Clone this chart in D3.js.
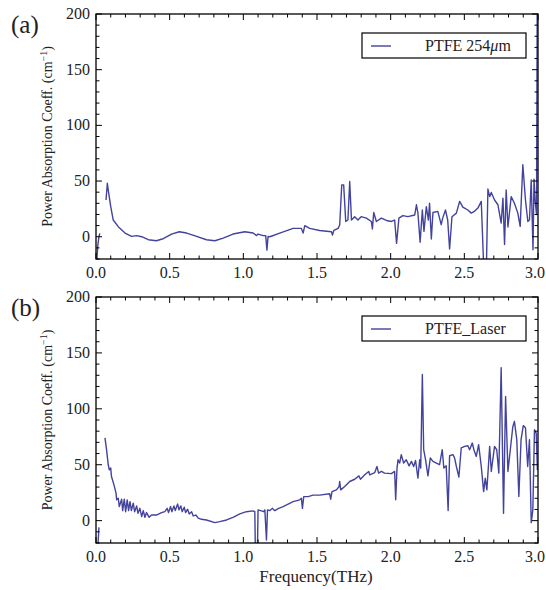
<!DOCTYPE html>
<html>
<head>
<meta charset="utf-8">
<script src="https://cdn.jsdelivr.net/npm/d3@7"></script>
<style>
  body { margin: 0; background: #fff; }
  text { font-family: "Liberation Serif", "DejaVu Serif", serif; fill: #222; }
</style>
</head>
<body>
<div id="chart"></div>
<script>
// (a) PTFE 254um
const freqA = [0.004, 0.012, 0.02, 0.026, 0.04, 0.068, 0.077, 0.083, 0.1, 0.117, 0.151, 0.197, 0.242, 0.276, 0.31,
  0.355, 0.41, 0.456, 0.513, 0.565, 0.615, 0.683, 0.75, 0.807, 0.863, 0.93, 1.01, 1.066, 1.09, 1.1,
  1.134, 1.152, 1.16, 1.168, 1.18, 1.247, 1.338, 1.394, 1.406, 1.417, 1.45, 1.518, 1.598, 1.605, 1.614,
  1.643, 1.654, 1.668, 1.681, 1.695, 1.71, 1.722, 1.734, 1.756, 1.778, 1.8, 1.835, 1.869, 1.876, 1.885,
  1.903, 1.937, 1.971, 2.005, 2.027, 2.04, 2.056, 2.083, 2.117, 2.163, 2.175, 2.185, 2.2, 2.215, 2.226,
  2.242, 2.256, 2.264, 2.276, 2.287, 2.32, 2.343, 2.353, 2.372, 2.387, 2.4, 2.416, 2.446, 2.468, 2.49,
  2.524, 2.547, 2.569, 2.592, 2.615, 2.635, 2.648, 2.66, 2.672, 2.683, 2.705, 2.728, 2.75, 2.762, 2.773,
  2.784, 2.796, 2.818, 2.84, 2.863, 2.879, 2.897, 2.915, 2.931, 2.942, 2.954, 2.966, 2.973, 2.98, 2.99, 2.996];
const absA = [-25, -8, 0, 3, null, 33, 48, 42, 27, 15, 9, 3.3, 0.3, 1, 0,
  -2.7, -3.6, -1.8, 2.4, 4.5, 3.3, 0.3, -2.7, -3.6, -1.2, 2.4, 4.5, 3.3, 1, 2.4,
  1, 1, -12, 0.3, 0, 3.3, 7.5, 7.5, 3.3, 10, 7.5, 5.6, 4.5, 1.5, 5.6,
  7.5, 10.5, 46.6, 46.6, 13.7, 15, 49.6, 15, 18, 15, 18, 16.7, 13.7, 7, 21.8,
  13.7, 16.7, 14.6, 13.7, 15, -6, 16.7, 19, 18, 19.5, 28.7, 21.2, -5, 24, 4.8,
  27, 15, 30, -2, 21.8, 22.8, 10.8, 16.7, 24, 15, -11, 18, 21.2, 31.7, 26.6,
  24, 21.2, 22.8, 25.7, 31.7, -40, -40, 42.8, 36, 39.7, 33, 28.7, 12.3, 34.7, -7,
  42, 8.7, 36, 30, 21.2, 9.3, 64.6, 33, 13.7, 15, 51, -11.7, 51.7, 33, 20, 260];

// (b) PTFE_Laser
const freqB = [0.012, 0.02, 0.04, 0.061, 0.072, 0.083, 0.09, 0.1, 0.105, 0.122, 0.136, 0.14, 0.151, 0.158, 0.174,
  0.181, 0.192, 0.201, 0.212, 0.221, 0.231, 0.24, 0.253, 0.262, 0.276, 0.285, 0.298, 0.31, 0.321, 0.332,
  0.343, 0.361, 0.377, 0.41, 0.445, 0.467, 0.483, 0.492, 0.506, 0.515, 0.529, 0.538, 0.554, 0.563, 0.576,
  0.585, 0.599, 0.608, 0.622, 0.633, 0.649, 0.66, 0.678, 0.694, 0.716, 0.75, 0.807, 0.84, 0.886, 0.93,
  0.976, 1.021, 1.066, 1.078, 1.083, 1.094, 1.1, 1.117, 1.139, 1.146, 1.157, 1.164, 1.18, 1.198, 1.207,
  1.214, 1.236, 1.27, 1.338, 1.383, 1.394, 1.401, 1.41, 1.44, 1.473, 1.518, 1.586, 1.593, 1.602, 1.632,
  1.65, 1.654, 1.661, 1.688, 1.722, 1.756, 1.785, 1.795, 1.824, 1.851, 1.858, 1.892, 1.907, 1.918, 1.937,
  1.959, 2.005, 2.027, 2.034, 2.043, 2.05, 2.061, 2.072, 2.088, 2.106, 2.125, 2.141, 2.156, 2.169, 2.185,
  2.197, 2.204, 2.215, 2.224, 2.237, 2.253, 2.269, 2.287, 2.31, 2.332, 2.35, 2.361, 2.377, 2.39, 2.4,
  2.423, 2.434, 2.446, 2.463, 2.479, 2.502, 2.524, 2.536, 2.554, 2.565, 2.581, 2.597, 2.615, 2.631, 2.642,
  2.653, 2.672, 2.683, 2.705, 2.72, 2.734, 2.75, 2.766, 2.78, 2.796, 2.812, 2.829, 2.84, 2.856, 2.87,
  2.885, 2.9, 2.915, 2.93, 2.942, 2.954, 2.965, 2.976, 2.988, 2.996];
const absB = [-25, -6, null, 74, 63, 50, 45.5, 47, 39.5, 32, 24.6, 18.6, 20, 12.6, 19.2,
  9, 19.2, 8, 18.6, 9, 17, 9, 15.6, 8, 13.2, 6.6, 11, 3.6, 9, 3,
  7.2, 3, 5, 5, 7.2, 8, 11, 7.2, 12.6, 8, 13.2, 9, 15, 9.6, 13.2,
  8, 12, 7.2, 10.2, 6, 8, 4.2, 5, 2.2, 1.2, 0.6, -1.8, -0.9, 0.6, 3,
  6, 8, 8.7, 8, -40, -40, 9.6, 9, 8, 9.6, -17.3, 9.6, 9, 11, 9.6,
  9, 10.8, 12.6, 17, 18.6, 20, 11, 21.5, 21.5, 22.8, 22.8, 24, 19.2, 26, 27.5,
  30.5, 35, 27.5, 30.5, 35, 37, 40, 37, 41, 44, 41, 43, 48.4, 42.5, 44,
  42.5, 42, 44, 18.6, 47, 54.4, 51.5, 59, 51.5, 54.4, 49, 53, 48.4, 53.8, 38,
  54.4, 47, 130.7, 63.4, 54.4, 40, 56, 53, 51.5, 50, 63.4, 47, 49, 9, 58,
  59, 56, 48.4, 39, 65, 66.4, 67, 63.4, 69.4, 63.4, 57.4, 68, 48.4, 26, 38,
  27.5, 66.4, 44, 66.4, 63.4, 42.5, 136.7, 6.6, 111, 44, 63.4, 84, 88.8, 72.4, 21.5,
  72.4, 85, 83, 48.4, 72.4, -1.8, 9.6, 81.3, 78, 45];

const xTicks = [0, 0.5, 1, 1.5, 2, 2.5, 3];
const yTicks = [0, 50, 100, 150, 200];

const width = 546, height = 590;
const svg = d3.select('#chart').append('svg').attr('width', width).attr('height', height);

const lineColor = '#43439e';

function drawPanel(id, freq, vals, legendText, letter, top, bottom) {
  const left = 96, right = 538;
  const x = d3.scaleLinear().domain([0, 3]).range([left, right]);
  const y = d3.scaleLinear().domain([-20, 200]).range([bottom, top]);
  const g = svg.append('g');

  g.append('clipPath').attr('id', 'clip-' + id)
    .append('rect').attr('x', left).attr('y', top).attr('width', right - left).attr('height', bottom - top);

  const data = freq.map((f, i) => [f, vals[i]]);
  const line = d3.line().defined(d => d[1] != null).x(d => x(d[0])).y(d => y(d[1]));
  g.append('path').datum(data)
    .attr('clip-path', 'url(#clip-' + id + ')')
    .attr('fill', 'none').attr('stroke', lineColor).attr('stroke-width', 1.4)
    .attr('stroke-linejoin', 'round')
    .attr('d', line);

  // frame ticks on all four sides, pointing inwards
  const minorX = d3.range(0, 3.001, 0.1);
  const minorY = d3.range(-20, 200.1, 10);
  const tickG = g.append('g').attr('stroke', '#000').attr('stroke-width', 1);
  minorX.forEach(v => {
    const major = Math.abs(v * 2 - Math.round(v * 2)) < 1e-6;
    const len = major ? 6 : 3.5;
    tickG.append('line').attr('x1', x(v)).attr('x2', x(v)).attr('y1', bottom).attr('y2', bottom - len);
    tickG.append('line').attr('x1', x(v)).attr('x2', x(v)).attr('y1', top).attr('y2', top + len);
  });
  minorY.forEach(v => {
    const major = Math.round(v) % 50 === 0;
    const len = major ? 6 : 3.5;
    tickG.append('line').attr('y1', y(v)).attr('y2', y(v)).attr('x1', left).attr('x2', left + len);
    tickG.append('line').attr('y1', y(v)).attr('y2', y(v)).attr('x1', right).attr('x2', right - len);
  });

  g.append('rect').attr('x', left).attr('y', top).attr('width', right - left).attr('height', bottom - top)
    .attr('fill', 'none').attr('stroke', '#000').attr('stroke-width', 1.3);

  // the last label sits on the page edge, so keep it inside
  g.selectAll('.xl').data(xTicks).enter().append('text')
    .attr('x', d => d === 3 ? width - 1 : x(d)).attr('y', bottom + 19)
    .attr('text-anchor', d => d === 3 ? 'end' : 'middle').style('font-size', '16px')
    .text(d => d.toFixed(1));
  g.selectAll('.yl').data(yTicks).enter().append('text')
    .attr('x', left - 6).attr('y', d => y(d) + 5)
    .attr('text-anchor', 'end').style('font-size', '16px')
    .text(d => d);

  const yt = g.append('text')
    .attr('transform', 'translate(52,' + ((top + bottom) / 2) + ') rotate(-90)')
    .attr('text-anchor', 'middle').style('font-size', '14px');
  yt.append('tspan').text('Power Absorption Coeff. (cm');
  yt.append('tspan').attr('dy', -5).style('font-size', '10px').text('\u22121');
  yt.append('tspan').attr('dy', 5).text(')');

  g.append('text').attr('x', 11).attr('y', top + 19).style('font-size', '25px').text(letter);

  // legend
  const lg = g.append('g').attr('transform', 'translate(362,' + (top + 19) + ')');
  lg.append('rect').attr('width', 164).attr('height', 25)
    .attr('fill', '#fff').attr('stroke', '#000').attr('stroke-width', 1.2);
  lg.append('line').attr('x1', 9).attr('x2', 29).attr('y1', 13).attr('y2', 13)
    .attr('stroke', lineColor).attr('stroke-width', 1.4);
  const lt = lg.append('text').attr('x', 63).attr('y', 18).style('font-size', '16px');
  legendText.forEach(p => {
    const s = lt.append('tspan').text(p.t);
    if (p.i) s.style('font-style', 'italic');
  });
}

drawPanel('a', freqA, absA, [{t: 'PTFE 254'}, {t: '\u03bc', i: true}, {t: 'm'}], '(a)', 14, 259);
drawPanel('b', freqB, absB, [{t: 'PTFE_Laser'}], '(b)', 297, 543);

svg.append('text').attr('x', 316).attr('y', 582).attr('text-anchor', 'middle')
  .style('font-size', '17px').text('Frequency(THz)');
</script>
</body>
</html>
